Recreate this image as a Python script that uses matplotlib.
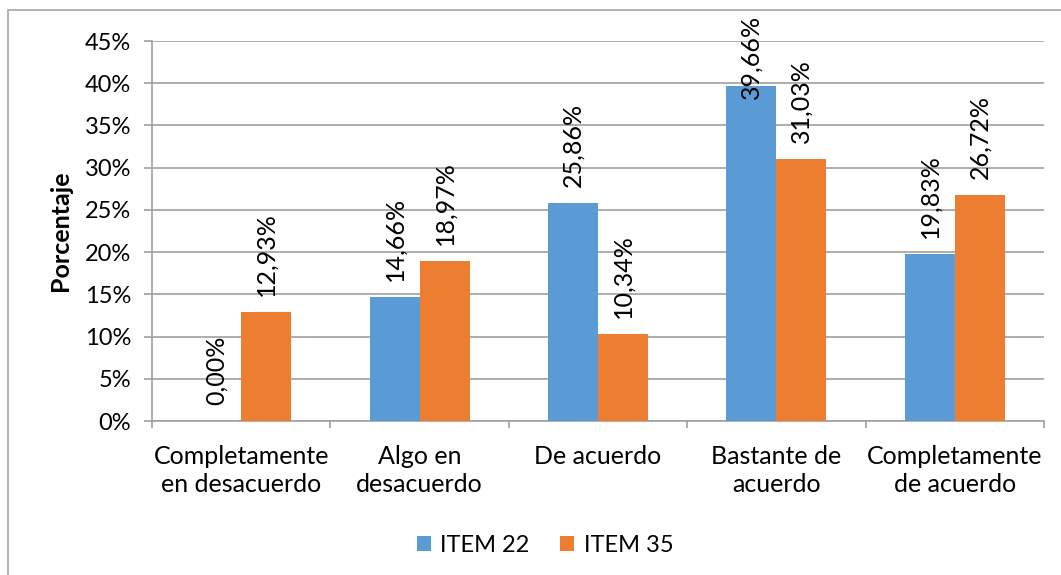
import numpy as np
import matplotlib.pyplot as plt
from matplotlib.patches import Rectangle
from matplotlib.ticker import FuncFormatter

categories = ["Completamente\nen desacuerdo", "Algo en\ndesacuerdo", "De acuerdo",
              "Bastante de\nacuerdo", "Completamente\nde acuerdo"]
item22 = [0.00, 14.66, 25.86, 39.66, 19.83]
item35 = [12.93, 18.97, 10.34, 31.03, 26.72]
series_names = ["ITEM 22", "ITEM 35"]
y_ticks = [0, 5, 10, 15, 20, 25, 30, 35, 40, 45]

plt.rcParams['font.family'] = ['Lato', 'DejaVu Sans']

W, H = 1061, 575
fig = plt.figure(figsize=(W / 100, H / 100), dpi=100)
ax = fig.add_axes([152 / W, 1 - 421 / H, (1044 - 152) / W, (421 - 41) / H])

# outer chart frame
fig.patches.append(Rectangle((8 / W, 1 - 700 / H), 1200 / W, (700 - 10) / H,
                             transform=fig.transFigure, fill=False,
                             edgecolor='#a6a6a6', linewidth=1.2))

x = np.arange(len(categories))
bw = 0.28
colors = ['#5b9bd5', '#ed7d31']
grid_c = '#a0a0a0'

labels = []
for i, (vals, c) in enumerate(zip([item22, item35], colors)):
    pos = x + (i - 0.5) * bw
    ax.bar(pos, vals, bw, color=c, label=series_names[i], zorder=3)
    for p, v in zip(pos, vals):
        t = ax.annotate(f"{v:.2f}%".replace('.', ','), (p, v), xytext=(0, 16),
                        textcoords='offset pixels', rotation=90, ha='center',
                        va='bottom', fontsize=18, color='black', zorder=4,
                        annotation_clip=False)
        labels.append(t)

ax.set_xlim(-0.5, len(categories) - 0.5)
ax.set_ylim(0, 45)
ax.set_yticks(y_ticks)
ax.yaxis.set_major_formatter(FuncFormatter(lambda v, _: f"{v:.0f}%"))
ax.yaxis.grid(True, color=grid_c, linewidth=1.2, zorder=0)
ax.tick_params(axis='y', length=6, color=grid_c, labelsize=17, pad=9, width=1.2)

ax.set_xticks(x)
ax.set_xticklabels(categories, fontsize=18, linespacing=1.3)
ax.set_xticks(np.arange(-0.5, len(categories)), minor=True)
ax.tick_params(axis='x', which='major', length=0, pad=17)
ax.tick_params(axis='x', which='minor', length=5, color=grid_c, width=1.2)

for s in ['top', 'right']:
    ax.spines[s].set_visible(False)
for s in ['left', 'bottom']:
    ax.spines[s].set_color(grid_c)
    ax.spines[s].set_linewidth(1.2)

ax.set_ylabel("Porcentaje", fontsize=18, fontweight='bold')
ax.yaxis.set_label_coords(-0.09, 0.5)

fig.legend(loc='center', bbox_to_anchor=(545 / W, 1 - 545 / H), ncol=2, frameon=False,
           fontsize=17, handlelength=0.6, handleheight=0.6, handletextpad=0.4,
           columnspacing=1.3)

# keep labels inside the chart frame
fig.canvas.draw()
top_px = H - 15
for t in labels:
    bb = t.get_window_extent()
    if bb.y1 > top_px:
        t.xyann = (0, 16 - (bb.y1 - top_px))

fig.savefig("out.png", dpi=100)
